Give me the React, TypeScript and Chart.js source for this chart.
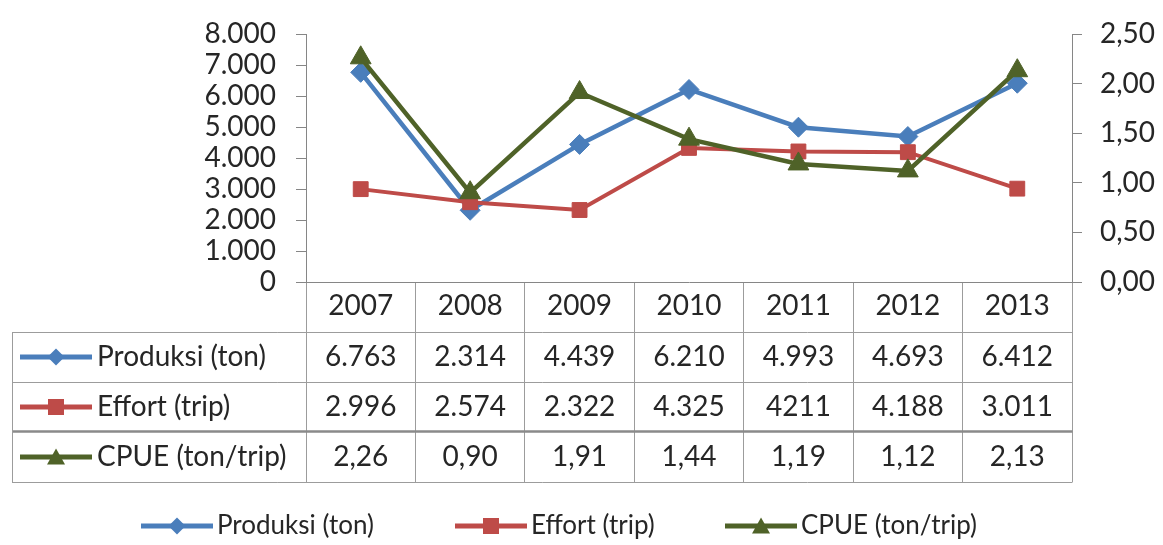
import React, { useEffect, useRef } from 'react';
import { Chart, registerables } from 'chart.js';

Chart.register(...registerables);

// ---- data ----
const years = ['2007', '2008', '2009', '2010', '2011', '2012', '2013'];
const seriesNames = ['Produksi (ton)', 'Effort (trip)', 'CPUE (ton/trip)'];
const produksi = [6763, 2314, 4439, 6210, 4993, 4693, 6412];
const effort = [2996, 2574, 2322, 4325, 4211, 4188, 3011];
const cpue = [2.26, 0.9, 1.91, 1.44, 1.19, 1.12, 2.13];
// values as printed in the data table
const produksiText = ['6.763', '2.314', '4.439', '6.210', '4.993', '4.693', '6.412'];
const effortText = ['2.996', '2.574', '2.322', '4.325', '4211', '4.188', '3.011'];
const cpueText = ['2,26', '0,90', '1,91', '1,44', '1,19', '1,12', '2,13'];
// axis ranges
const leftMax = 8000;
const leftStep = 1000;
const rightMax = 2.5;
const rightStep = 0.5;

// ---- styles ----
const BLUE = '#4A7EBB';
const RED = '#BE4B48';
const GREEN = '#4F6228';
const AXIS = '#868686';
const TABLE_LINE = '#9c9c9c';
const TEXT = '#262626';
const FONT = 'Lato, "Open Sans", sans-serif';
const FS = 28;

function makeMarker(color: string, shape: string) {
  const c = document.createElement('canvas');
  c.width = 72;
  c.height = 24;
  const g = c.getContext('2d')!;
  g.strokeStyle = color;
  g.fillStyle = color;
  g.lineWidth = 5;
  g.beginPath();
  g.moveTo(0, 12);
  g.lineTo(72, 12);
  g.stroke();
  g.beginPath();
  if (shape === 'diamond') {
    g.moveTo(36, 3.5);
    g.lineTo(44.5, 12);
    g.lineTo(36, 20.5);
    g.lineTo(27.5, 12);
    g.closePath();
  } else if (shape === 'square') {
    g.rect(28, 4, 16, 16);
  } else {
    g.moveTo(36, 3.5);
    g.lineTo(45, 19.5);
    g.lineTo(27, 19.5);
    g.closePath();
  }
  g.fill();
  return c;
}

const fmtThousands = (v: number) =>
  String(Math.round(v)).replace(/\B(?=(\d{3})+(?!\d))/g, '.');

export default function App() {
  const ref = useRef<HTMLCanvasElement | null>(null);

  useEffect(() => {
    if (!ref.current) return;
    const markers = [
      makeMarker(BLUE, 'diamond'),
      makeMarker(RED, 'square'),
      makeMarker(GREEN, 'triangle'),
    ];
    const tableRows = [produksiText, effortText, cpueText];
    const ROW_H = 50;

    const tablePlugin = {
      id: 'dataTable',
      afterDraw(chart: any) {
        const ctx = chart.ctx as CanvasRenderingContext2D;
        const { right, bottom } = chart.chartArea;
        const xs = chart.scales.x;
        const tableLeft = 12;
        ctx.save();
        // horizontal rules
        for (let k = 1; k <= 4; k++) {
          const y = Math.round(bottom + k * ROW_H - (k === 3 ? 1 : 0)) + 0.5;
          ctx.lineWidth = k === 3 ? 2.5 : 1;
          ctx.strokeStyle = k === 3 ? '#8a8a8a' : TABLE_LINE;
          ctx.beginPath();
          ctx.moveTo(tableLeft, y);
          ctx.lineTo(Math.round(right) + 0.5, y);
          ctx.stroke();
        }
        // left border
        ctx.lineWidth = 1;
        ctx.strokeStyle = TABLE_LINE;
        ctx.beginPath();
        ctx.moveTo(tableLeft + 0.5, bottom + ROW_H);
        ctx.lineTo(tableLeft + 0.5, bottom + 4 * ROW_H + 0.5);
        ctx.stroke();

        // row labels and values
        ctx.fillStyle = TEXT;
        ctx.font = `${FS}px ${FONT}`;
        ctx.textBaseline = 'middle';
        for (let r = 0; r < 3; r++) {
          const cy = bottom + ROW_H * (r + 1) + ROW_H / 2;
          ctx.drawImage(markers[r], 20, Math.round(cy - 12));
          ctx.textAlign = 'left';
          ctx.fillText(seriesNames[r], 97, cy);
          ctx.textAlign = 'center';
          tableRows[r].forEach((t, i) => {
            ctx.fillText(t, xs.getPixelForValue(i), cy);
          });
        }

        // legend
        const legendY = 526;
        const legendX = [141, 455, 725];
        ctx.font = `26px ${FONT}`;
        ctx.textAlign = 'left';
        for (let r = 0; r < 3; r++) {
          ctx.drawImage(markers[r], legendX[r], legendY - 12);
          ctx.fillText(seriesNames[r], legendX[r] + 76, legendY);
        }
        ctx.restore();
      },
    };

    const chart = new Chart(ref.current, {
      type: 'line',
      data: {
        labels: years,
        datasets: [
          {
            label: seriesNames[0],
            data: produksi,
            yAxisID: 'y',
            borderColor: BLUE,
            backgroundColor: BLUE,
            borderWidth: 4.5,
            pointStyle: 'rectRot',
            pointRadius: 10,
            pointBorderWidth: 1,
            pointBorderColor: BLUE,
            pointBackgroundColor: BLUE,
            order: 3,
          },
          {
            label: seriesNames[1],
            data: effort,
            yAxisID: 'y',
            borderColor: RED,
            backgroundColor: RED,
            borderWidth: 4,
            pointStyle: 'rect',
            pointRadius: 10.5,
            pointBorderWidth: 1,
            pointBorderColor: RED,
            pointBackgroundColor: RED,
            order: 2,
          },
          {
            label: seriesNames[2],
            data: cpue,
            yAxisID: 'y1',
            borderColor: GREEN,
            backgroundColor: GREEN,
            borderWidth: 4.5,
            pointStyle: 'triangle',
            pointRadius: 12,
            pointBorderWidth: 1,
            pointBorderColor: GREEN,
            pointBackgroundColor: GREEN,
            order: 1,
          },
        ],
      },
      options: {
        responsive: true,
        maintainAspectRatio: false,
        animation: false,
        layout: { padding: { top: 29, left: 0, right: 0, bottom: 0 } },
        plugins: {
          legend: { display: false },
          tooltip: { enabled: false },
          title: { display: false },
        },
        scales: {
          x: {
            type: 'category',
            position: 'bottom',
            offset: true,
            grid: {
              display: true,
              drawOnChartArea: false,
              drawTicks: true,
              tickLength: 200,
              offset: true,
              color: TABLE_LINE,
              lineWidth: 1,
            },
            border: { display: true, color: AXIS, width: 1 },
            ticks: {
              autoSkip: false,
              maxRotation: 0,
              minRotation: 0,
              padding: -190,
              color: TEXT,
              font: { family: FONT, size: FS, lineHeight: 1 },
            },
            afterFit: (s: any) => {
              s.height = 263;
            },
          },
          y: {
            type: 'linear',
            position: 'left',
            min: 0,
            max: leftMax,
            grid: {
              drawOnChartArea: false,
              drawTicks: true,
              tickLength: 10,
              color: AXIS,
            },
            border: { display: true, color: AXIS, width: 1 },
            ticks: {
              stepSize: leftStep,
              autoSkip: false,
              padding: 20,
              color: TEXT,
              font: { family: FONT, size: FS, lineHeight: 1 },
              callback: (v: any) => fmtThousands(Number(v)),
            },
            afterFit: (s: any) => {
              s.width = 306;
            },
          },
          y1: {
            type: 'linear',
            position: 'right',
            min: 0,
            max: rightMax,
            grid: {
              drawOnChartArea: false,
              drawTicks: true,
              tickLength: 10,
              color: AXIS,
            },
            border: { display: true, color: AXIS, width: 1 },
            ticks: {
              stepSize: rightStep,
              autoSkip: false,
              padding: 18,
              color: TEXT,
              font: { family: FONT, size: FS, lineHeight: 1 },
              callback: (v: any) => Number(v).toFixed(2).replace('.', ','),
            },
            afterFit: (s: any) => {
              s.width = 91;
            },
          },
        },
      },
      plugins: [tablePlugin],
    });

    return () => chart.destroy();
  }, []);

  return (
    <div
      style={{
        position: 'fixed',
        left: 0,
        top: 0,
        width: 1163,
        height: 545,
        background: '#ffffff',
      }}
    >
      <canvas ref={ref} />
    </div>
  );
}
